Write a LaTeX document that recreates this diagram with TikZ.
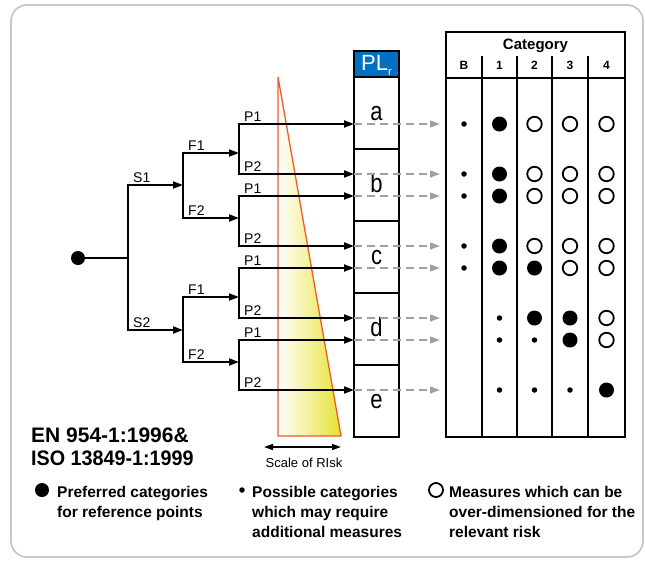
\documentclass[tikz,border=0pt]{standalone}
\usepackage{fontspec}
\usepackage{graphicx}
\setmainfont{Liberation Sans}
\usetikzlibrary{arrows.meta}
\definecolor{plblue}{RGB}{0,112,192}
\definecolor{riskred}{RGB}{240,90,40}
\definecolor{riskyellow}{RGB}{230,226,50}
\definecolor{dashgray}{RGB}{160,160,160}
\definecolor{framegray}{RGB}{200,200,200}
\newcommand\fsz[2]{\fontsize{#1}{#2}\selectfont}
\newcommand\mkrow[7]{%
  \node[mk#3] (d#1cb) at (464,#2) {};
  \node[mk#4] (d#1ca) at (499.5,#2) {};
  \node[mk#5] (d#1cc) at (534.5,#2) {};
  \node[mk#6] (d#1cd) at (570,#2) {};
  \node[mk#7] (d#1ce) at (606.5,#2) {};
}
\begin{document}
\begin{tikzpicture}[x=1pt,y=-1pt,
  lbl/.style={font=\fsz{14}{16}, inner sep=0, anchor=base west},
  tree/.style={line width=1.9pt, >={Triangle[length=10pt,width=7pt]}},
  plbox/.style={draw, line width=2pt, minimum width=45pt, minimum height=72pt, inner sep=0, text height=15pt, text depth=0pt, font=\fsz{22}{22}},
  plhead/.style={draw, fill=plblue, line width=2pt, minimum width=45pt, minimum height=26pt, inner sep=0, text=white, font=\fsz{22}{22}, text height=16pt, text depth=4pt},
  dasharrow/.style={dashgray, line width=1.3pt, dash pattern=on 8pt off 5pt, -{Triangle[length=10pt,width=7pt]}},
  tbl/.style={line width=2pt},
  mkB/.style={circle, fill=black, inner sep=0, minimum size=15pt},
  mkS/.style={circle, fill=black, inner sep=0, minimum size=5.5pt},
  mkO/.style={circle, draw=black, line width=1.8pt, inner sep=0, minimum size=14.5pt},
  mkN/.style={shape=coordinate},
  legtext/.style={font=\bfseries\fsz{15.5}{20}, inner sep=0, anchor=north west, align=left},
  colhd/.style={font=\bfseries\fsz{12}{12}, inner sep=0, anchor=base}
]
\useasboundingbox (0,0) rectangle (645,563);
% frame
\draw[framegray, line width=1.8pt, rounded corners=16pt] (11,5) rectangle (643,557);

% risk triangle
\coordinate (tt) at (278,77);
\coordinate (tl) at (278,436);
\coordinate (tr) at (341,436);
\shade[left color=white, right color=riskyellow] (tt) -- (tr) -- (tl) -- cycle;
\draw[riskred, line width=1.3pt, line join=miter] (tt) -- (tr) -- (tl) -- cycle;

% scale of risk
\coordinate (sra) at (264,447);
\coordinate (srb) at (341,447);
\draw[line width=1.6pt, <->, >={Triangle[length=9pt,width=6pt]}] (sra) -- (srb);
\node[font=\fsz{13}{13}, inner sep=0, anchor=base] (scl) at (304,467) {Scale of RIsk};

% tree coordinates
\foreach \y [count=\i] in {124,174,196,246,268,318,340,390} {
  \coordinate (pa\i) at (239,\y);
  \coordinate (pb\i) at (354,\y);
  \coordinate (q\i) at (440,\y);
}
\node[mkB, minimum size=14pt] (start) at (78,258) {};
\coordinate (sj) at (128,258);
\coordinate (s1a) at (128,185); \coordinate (s1b) at (183,185);
\coordinate (s2a) at (128,330); \coordinate (s2b) at (183,330);
\coordinate (f1a) at (183,153); \coordinate (f1b) at (239,153);
\coordinate (f2a) at (183,218); \coordinate (f2b) at (239,218);
\coordinate (f3a) at (183,297); \coordinate (f3b) at (239,297);
\coordinate (f4a) at (183,362); \coordinate (f4b) at (239,362);

\draw[tree] (start) -- (sj);
\draw[tree,<->] (s1b) -- (s1a) -- (s2a) -- (s2b);
\draw[tree,<->] (f1b) -- (f1a) -- (f2a) -- (f2b);
\draw[tree,<->] (f3b) -- (f3a) -- (f4a) -- (f4b);
\foreach \a/\b in {1/2,3/4,5/6,7/8} \draw[tree,<->] (pb\a) -- (pa\a) -- (pa\b) -- (pb\b);

% tree labels
\node[lbl] (lS1) at (133,182.5) {S1};
\node[lbl] (lS2) at (133,327.5) {S2};
\node[lbl] (lF1) at (188,150.5) {F1};
\node[lbl] (lF2) at (188,215.5) {F2};
\node[lbl] (lF3) at (188,294.5) {F1};
\node[lbl] (lF4) at (188,359.5) {F2};
\foreach \y/\t [count=\i] in {124/P1,174/P2,196/P1,246/P2,268/P1,318/P2,340/P1,390/P2}
  \node[lbl] (lp\i) at (244,\y-2.5) {\t};

% PLr column
\node[plhead] (plr) at (376.5,64) {PL\raisebox{-5pt}{\fsz{11}{11}r}};
\foreach \t/\y in {a/113,b/185,c/257,d/329,e/401}
  \node[plbox] (box\t) at (376.5,\y) {\scalebox{1}[1.2]{\t}};

% dashed arrows
\foreach \i in {1,...,8} \draw[dasharrow] (pb\i) -- (q\i);

% category table
\draw[tbl] (446,32) rectangle (625,437);
\draw[tbl] (446,78) -- (625,78);
\foreach \x in {482,517,552,588} \draw[tbl] (\x,56) -- (\x,437);
\node[font=\bfseries\fsz{15}{15}, inner sep=0, anchor=base] (cat) at (535.5,49) {Category};
\node[colhd] (hB) at (464,69) {B};
\node[colhd] (h1) at (499.5,69) {1};
\node[colhd] (h2) at (534.5,69) {2};
\node[colhd] (h3) at (570,69) {3};
\node[colhd] (h4) at (606.5,69) {4};

\mkrow{1}{124}{S}{B}{O}{O}{O}
\mkrow{2}{174}{S}{B}{O}{O}{O}
\mkrow{3}{196}{S}{B}{O}{O}{O}
\mkrow{4}{246}{S}{B}{O}{O}{O}
\mkrow{5}{268}{S}{B}{B}{O}{O}
\mkrow{6}{318}{N}{S}{B}{B}{O}
\mkrow{7}{340}{N}{S}{S}{B}{O}
\mkrow{8}{390}{N}{S}{S}{S}{B}

% standard
\node[font=\bfseries\fsz{21}{23}, inner sep=0, anchor=north west, align=left] (std) at (31,428) {EN 954-1:1996\&\\\scalebox{0.94}[1]{ISO 13849-1:1999}};

% legend
\node[mkB, minimum size=14pt] (legB) at (42,490) {};
\node[legtext] (legBt) at (57,486) {Preferred categories\\for reference points};
\node[mkS] (legS) at (242,490) {};
\node[legtext] (legSt) at (252,486) {Possible categories\\which may require\\additional measures};
\node[mkO, minimum size=14pt] (legO) at (436,490) {};
\node[legtext] (legOt) at (449,486) {Measures which can be\\over-dimensioned for the\\relevant risk};
\end{tikzpicture}
\end{document}
